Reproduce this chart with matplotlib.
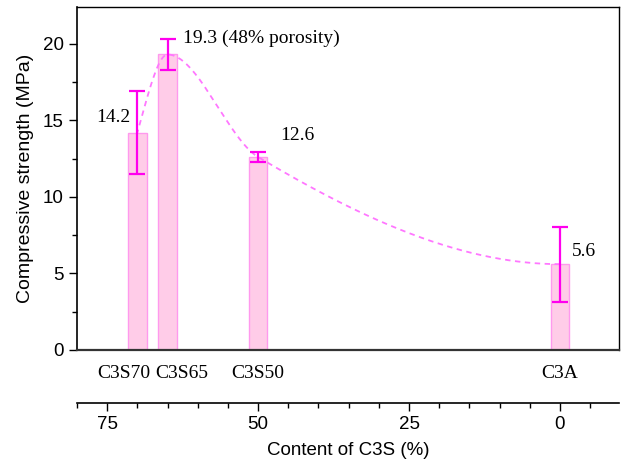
import numpy as np
from matplotlib import pyplot as plt
from matplotlib.ticker import MultipleLocator

samples = ["C3S70", "C3S65", "C3S50", "C3A"]
c3s_content = [70, 65, 50, 0]
strength = [14.2, 19.3, 12.6, 5.6]
strength_err = [2.7, 1.0, 0.3, 2.45]
value_labels = ["14.2", "19.3 (48% porosity)", "12.6", "5.6"]

plt.rcParams["font.family"] = ["Liberation Sans", "DejaVu Sans"]


def pchip(xs, ys, xnew):
    # monotone cubic through the measured points (smooth connector line)
    xs = np.asarray(xs, float)
    ys = np.asarray(ys, float)
    h = np.diff(xs)
    d = np.diff(ys) / h
    n = len(xs)
    m = np.zeros(n)
    for i in range(1, n - 1):
        if d[i - 1] * d[i] > 0:
            w1 = 2 * h[i] + h[i - 1]
            w2 = h[i] + 2 * h[i - 1]
            m[i] = (w1 + w2) / (w1 / d[i - 1] + w2 / d[i])
    m[0] = ((2 * h[0] + h[1]) * d[0] - h[0] * d[1]) / (h[0] + h[1])
    if np.sign(m[0]) != np.sign(d[0]):
        m[0] = 0
    m[-1] = ((2 * h[-1] + h[-2]) * d[-1] - h[-1] * d[-2]) / (h[-1] + h[-2])
    if np.sign(m[-1]) != np.sign(d[-1]):
        m[-1] = 0
    out = np.empty_like(xnew)
    for k, x in enumerate(xnew):
        i = min(max(np.searchsorted(xs, x) - 1, 0), n - 2)
        t = (x - xs[i]) / h[i]
        h00 = 2 * t ** 3 - 3 * t ** 2 + 1
        h10 = t ** 3 - 2 * t ** 2 + t
        h01 = -2 * t ** 3 + 3 * t ** 2
        h11 = t ** 3 - t ** 2
        out[k] = h00 * ys[i] + h10 * h[i] * m[i] + h01 * ys[i + 1] + h11 * h[i] * m[i + 1]
    return out


fig = plt.figure(figsize=(6.21, 4.69), dpi=100)
ax = fig.add_axes([0.124, 0.254, 0.873, 0.731])

ax.bar(c3s_content, strength, width=3.1, color="#ffcce8", edgecolor="#ff99ee", linewidth=1.0, zorder=2)
ax.errorbar(c3s_content, strength, yerr=strength_err, fmt="none", ecolor="#ff00ee",
            elinewidth=1.6, capsize=6, capthick=1.6, zorder=4)

order = np.argsort(c3s_content)
xs = np.array(c3s_content)[order]
ys = np.array(strength)[order]
xx = np.linspace(xs[0], xs[-1], 300)
ax.plot(xx, pchip(xs, ys, xx), linestyle=(0, (3, 2.5)), color="#ff77ff", linewidth=1.3, zorder=3)

serif = "Liberation Serif"
ax.text(71.2, 15.2, value_labels[0], fontsize=14, family=serif, ha="right", va="center")
ax.text(62.4, 20.35, value_labels[1], fontsize=14, family=serif, ha="left", va="center")
ax.text(46.4, 14.0, value_labels[2], fontsize=14, family=serif, ha="left", va="center")
ax.text(-2.0, 6.4, value_labels[3], fontsize=14, family=serif, ha="left", va="center")

ax.set_xlim(80, -9.8)
ax.set_ylim(0, 22.4)
ax.set_xticks(c3s_content)
ax.set_xticklabels([])
ax.tick_params(axis="x", length=0)
# sample names sit under the bars, nudged apart where they would collide
shifts = [-10, 10, 0, 0]
for x, name, dx in zip(c3s_content, samples, shifts):
    ax.annotate(name, (x, 0), xycoords=("data", "axes fraction"), xytext=(dx, -17),
                textcoords="offset points", ha="center", va="center", fontsize=14, family=serif)
ax.yaxis.set_major_locator(MultipleLocator(5))
ax.yaxis.set_minor_locator(MultipleLocator(2.5))
ax.tick_params(axis="y", which="major", length=6, width=1, labelsize=13.5)
ax.tick_params(axis="y", which="minor", length=3.5, width=1)
ax.set_ylabel("Compressive strength (MPa)", fontsize=14, labelpad=6)
for side in ["top", "right"]:
    ax.spines[side].set_linewidth(1.0)
ax.spines["left"].set_linewidth(1.2)
ax.spines["bottom"].set_linewidth(1.6)
ax.spines["bottom"].set_color("#333333")

sec = ax.secondary_xaxis(-0.155)
sec.set_xticks([75, 50, 25, 0])
sec.xaxis.set_minor_locator(MultipleLocator(5))
sec.tick_params(which="major", length=6, width=1, labelsize=13.5, pad=3)
sec.tick_params(which="minor", length=3.5, width=1)
sec.spines["bottom"].set_linewidth(1.2)
sec.set_xlabel("Content of C3S (%)", fontsize=13.5, labelpad=7)

fig.savefig("out.png", dpi=100)
